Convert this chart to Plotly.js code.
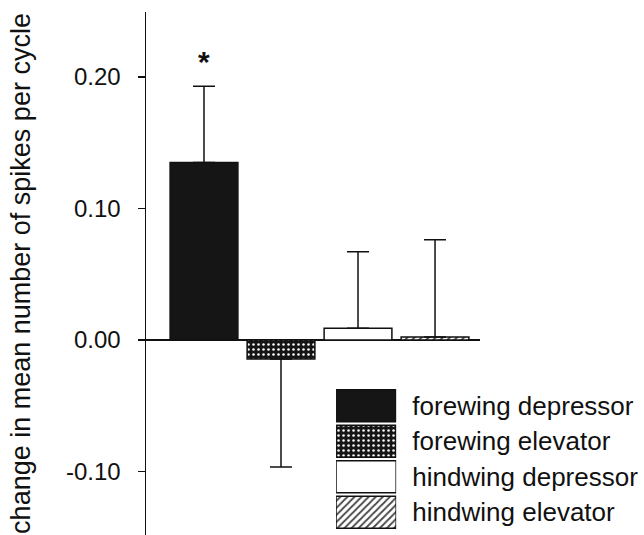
<!DOCTYPE html>
<html>
<head>
<meta charset="utf-8">
<script src="https://cdn.plot.ly/plotly-3.0.1.min.js"></script>
<style>html,body{margin:0;padding:0;background:#fff}#chart{width:644px;height:535px}</style>
</head>
<body>
<div id="chart"></div>
<script>
// ---- data ----
var categories = ["forewing depressor", "forewing elevator", "hindwing depressor", "hindwing elevator"];
var meanChange = [0.135, -0.0145, 0.009, 0.0023];
var errorUp = [0.058, 0, 0.058, 0.074];
var errorDown = [0, 0.082, 0, 0];
var significance = ["*", "", "", ""];
var tickValues = [-0.10, 0.00, 0.10, 0.20];
var tickLabels = ["-0.10", "0.00", "0.10", "0.20"];
var yTitle = "change in mean number of spikes per cycle";

// ---- styles ----
var fillColors = ["#151515", "#151515", "#ffffff", "#ffffff"];
var patShapes = ["", ".", "", "/"];
var patFg = ["#151515", "#ffffff", "#111111", "#111111"];
var patSize = [5, 5, 5, 5];
var patSolidity = [0.3, 0.2, 0.3, 0.35];
var font = "Liberation Sans, Arial, sans-serif";

function makeMarker() {
  return {
    color: fillColors,
    line: {color: "#111", width: 1.5},
    pattern: {shape: patShapes, fgcolor: patFg, fgopacity: 1, size: patSize,
              solidity: patSolidity, fillmode: "overlay"}
  };
}

var mainTrace = {
  type: "bar",
  x: categories,
  y: meanChange,
  width: 0.88,
  marker: makeMarker(),
  error_y: {type: "data", symmetric: false, array: errorUp, arrayminus: errorDown,
            color: "#111", thickness: 1.5, width: 11},
  xaxis: "x", yaxis: "y",
  showlegend: false, hoverinfo: "skip"
};

var keyTrace = {
  type: "bar",
  orientation: "h",
  y: categories,
  x: categories.map(function(){ return 1; }),
  width: 0.9,
  marker: makeMarker(),
  xaxis: "x2", yaxis: "y2",
  showlegend: false, hoverinfo: "skip"
};

var annotations = [];
categories.forEach(function(c, i){
  if (significance[i]) {
    annotations.push({
      x: c, y: meanChange[i] + errorUp[i], xref: "x", yref: "y",
      text: "<b>" + significance[i] + "</b>", showarrow: false,
      yanchor: "bottom", yshift: 6,
      font: {family: font, size: 30, color: "#111"}
    });
  }
});

var layout = {
  width: 644, height: 535,
  margin: {l: 146, r: 164, t: 12, b: 0},
  paper_bgcolor: "#fff", plot_bgcolor: "#fff",
  showlegend: false,
  font: {family: font, color: "#111"},
  xaxis: {
    type: "category", range: [-0.753, 3.584],
    showline: false, showticklabels: false, showgrid: false, zeroline: false, ticks: ""
  },
  yaxis: {
    range: [-0.1483, 0.2494],
    tickvals: tickValues, ticktext: tickLabels,
    ticks: "outside", ticklen: 7, tickwidth: 1.5, tickcolor: "#111",
    ticklabelstandoff: 12,
    showline: true, linecolor: "#111", linewidth: 1.5,
    showgrid: false,
    zeroline: true, zerolinecolor: "#111", zerolinewidth: 1.5,
    tickfont: {family: font, size: 24, color: "#111"},
    title: {text: yTitle, font: {family: font, size: 27, color: "#111"}, standoff: 27}
  },
  xaxis2: {
    domain: [0.569, 0.749], range: [0, 1], anchor: "y2",
    visible: false, fixedrange: true
  },
  yaxis2: {
    domain: [0.0096, 0.281], anchor: "x2", side: "right",
    type: "category", autorange: "reversed",
    showline: false, showgrid: false, zeroline: false,
    ticks: "outside", ticklen: 10, tickcolor: "rgba(0,0,0,0)",
    tickfont: {family: font, size: 26, color: "#111"}
  },
  annotations: annotations
};

Plotly.newPlot("chart", [mainTrace, keyTrace], layout, {displayModeBar: false, staticPlot: true});
</script>
</body>
</html>
